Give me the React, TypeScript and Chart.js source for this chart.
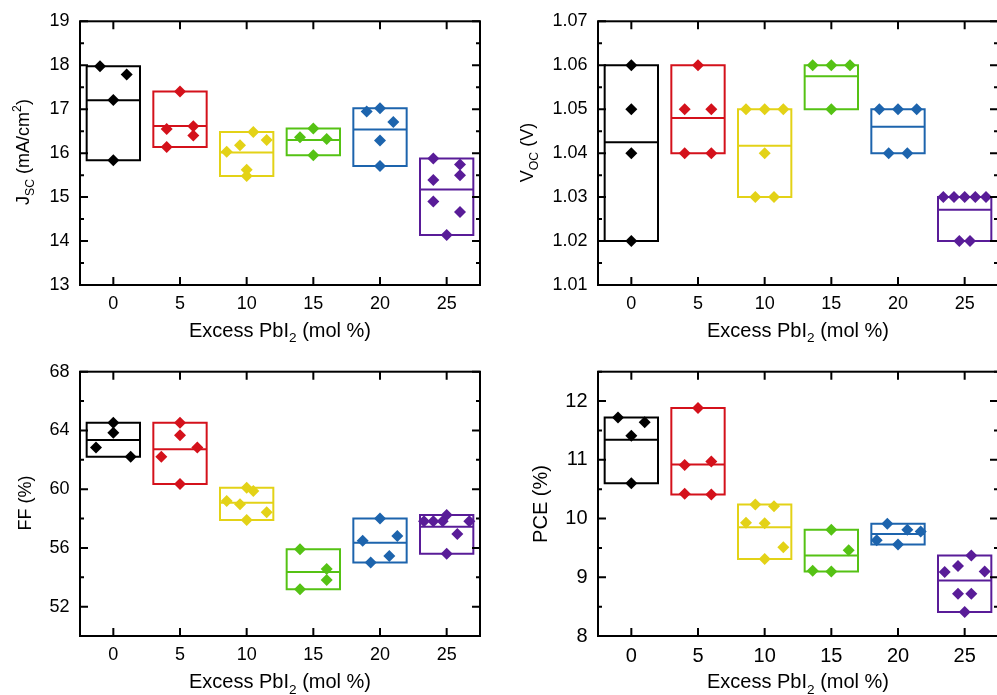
import React, { useEffect, useRef } from 'react';
import { Chart, registerables } from 'chart.js';

Chart.register(...registerables);
Chart.defaults.font.family = '"Liberation Sans", Arial, sans-serif';
Chart.defaults.color = '#000';

// ---------- shared data ----------
const groupCenters = [0, 5, 10, 15, 20, 25];
const groupColors = ['#000000', '#d4111b', '#e3d217', '#55c214', '#1d64ad', '#591c98'];
const xTickValues = [0, 5, 10, 15, 20, 25];
const xTitleSegs = [{ t: 'Excess PbI' }, { t: '2', k: 'sub' }, { t: ' (mol %)' }];

// ---------- Jsc panel ----------
const jscX = [
  [-1, 1, 0, 0],
  [5, 4, 6, 6, 4],
  [8.5, 9.5, 10.5, 11.5, 10, 10],
  [14, 15, 16, 15],
  [19, 20, 21, 20, 20],
  [24, 26, 24, 26, 24, 26, 25],
];
const jscY = [
  [17.98, 17.79, 17.21, 15.84],
  [17.4, 16.55, 16.61, 16.4, 16.14],
  [16.03, 16.18, 16.48, 16.3, 15.62, 15.48],
  [16.36, 16.56, 16.32, 15.95],
  [16.95, 17.02, 16.71, 16.29, 15.71],
  [15.88, 15.74, 15.39, 15.5, 14.9, 14.66, 14.14],
];
const jscTicks = [13, 14, 15, 16, 17, 18, 19];
const jscMinor = [13.5, 14.5, 15.5, 16.5, 17.5, 18.5];

// ---------- Voc panel ----------
const vocX = [
  [0, 0, 0, 0],
  [5, 4, 6, 4, 6],
  [8.6, 10, 11.4, 10, 9.3, 10.7],
  [13.6, 15, 16.4, 15],
  [18.6, 20, 21.4, 19.3, 20.7],
  [23.4, 24.2, 25, 25.8, 26.6, 24.6, 25.4],
];
const vocY = [
  [1.06, 1.05, 1.04, 1.02],
  [1.06, 1.05, 1.05, 1.04, 1.04],
  [1.05, 1.05, 1.05, 1.04, 1.03, 1.03],
  [1.06, 1.06, 1.06, 1.05],
  [1.05, 1.05, 1.05, 1.04, 1.04],
  [1.03, 1.03, 1.03, 1.03, 1.03, 1.02, 1.02],
];
const vocTicks = [1.01, 1.02, 1.03, 1.04, 1.05, 1.06, 1.07];
const vocMinor = [1.015, 1.025, 1.035, 1.045, 1.055, 1.065];

// ---------- FF panel ----------
const ffX = [
  [0, 0, -1.3, 1.3],
  [5, 5, 6.3, 3.6, 5],
  [10, 10.5, 8.5, 9.5, 11.5, 10],
  [14, 16, 16, 14],
  [20, 18.7, 21.3, 20.7, 19.3],
  [25, 23.3, 24, 24.7, 26.7, 25.8, 25],
];
const ffY = [
  [64.53, 63.85, 62.83, 62.21],
  [64.53, 63.67, 62.83, 62.21, 60.35],
  [60.1, 59.88, 59.19, 58.97, 58.42, 57.9],
  [55.9, 54.56, 53.82, 53.18],
  [58.01, 56.49, 56.81, 55.45, 55.0],
  [58.24, 57.82, 57.82, 57.82, 57.82, 56.95, 55.6],
];
const ffTicks = [52, 56, 60, 64, 68];
const ffMinor = [50, 54, 58, 62, 66];

// ---------- PCE panel ----------
const pceX = [
  [-1, 1, 0, 0],
  [5, 4, 6, 4, 6],
  [9.3, 10.7, 8.6, 10, 11.4, 10],
  [15, 16.3, 13.6, 15],
  [19.2, 20.7, 21.7, 18.4, 20],
  [25.5, 24.5, 23.5, 26.5, 24.5, 25.5, 25],
];
const pceY = [
  [11.72, 11.64, 11.41, 10.6],
  [11.88, 10.91, 10.97, 10.42, 10.41],
  [10.24, 10.21, 9.93, 9.92, 9.51, 9.31],
  [9.81, 9.46, 9.11, 9.1],
  [9.91, 9.81, 9.78, 9.63, 9.56],
  [9.37, 9.19, 9.09, 9.1, 8.72, 8.72, 8.41],
];
const pceTicks = [8, 9, 10, 11, 12];
const pceMinor = [8.5, 9.5, 10.5, 11.5, 12.5];

type Seg = { t: string; k?: 'sub' | 'sup' };

interface PanelSpec {
  xs: number[][];
  ys: number[][];
  yMin: number;
  yMax: number;
  yTicks: number[];
  yMinor: number[];
  decimals: number;
  yTitle: Seg[];
  left: number;
  top: number;
  width: number;
  height: number;
  area: { l: number; t: number; r: number; b: number };
  tickFont: number;
  yTitleFont: number;
  yTitleX: number;
  yTitleY: number;
  xTitleY: number;
}

const FONT = '"Liberation Sans", Arial, sans-serif';

function drawRich(ctx: CanvasRenderingContext2D, segs: Seg[], size: number) {
  const parts = segs.map((s) => {
    const fs = s.k ? size * 0.68 : size;
    ctx.font = `${fs}px ${FONT}`;
    return { s, fs, w: ctx.measureText(s.t).width };
  });
  const total = parts.reduce((a, p) => a + p.w, 0);
  let x = -total / 2;
  ctx.textAlign = 'left';
  ctx.textBaseline = 'alphabetic';
  for (const p of parts) {
    ctx.font = `${p.fs}px ${FONT}`;
    const dy = p.s.k === 'sub' ? size * 0.28 : p.s.k === 'sup' ? -size * 0.42 : 0;
    ctx.fillText(p.s.t, x, dy);
    x += p.w;
  }
}

const panels: PanelSpec[] = [
  {
    xs: jscX, ys: jscY, yMin: 13, yMax: 19, yTicks: jscTicks, yMinor: jscMinor, decimals: 0,
    yTitle: [{ t: 'J' }, { t: 'SC', k: 'sub' }, { t: ' (mA/cm' }, { t: '2', k: 'sup' }, { t: ')' }],
    left: 0, top: 0, width: 498, height: 342,
    area: { l: 80, t: 19, r: 480, b: 285 },
    tickFont: 18, yTitleFont: 18, yTitleX: 29, yTitleY: 152, xTitleY: 336.7,
  },
  {
    xs: vocX, ys: vocY, yMin: 1.01, yMax: 1.07, yTicks: vocTicks, yMinor: vocMinor, decimals: 2,
    yTitle: [{ t: 'V' }, { t: 'OC', k: 'sub' }, { t: ' (V)' }],
    left: 498, top: 0, width: 506, height: 342,
    area: { l: 100, t: 19, r: 501.5, b: 285 },
    tickFont: 18, yTitleFont: 18, yTitleX: 35, yTitleY: 152.5, xTitleY: 336.7,
  },
  {
    xs: ffX, ys: ffY, yMin: 50, yMax: 68, yTicks: ffTicks, yMinor: ffMinor, decimals: 0,
    yTitle: [{ t: 'FF (%)' }],
    left: 0, top: 345, width: 498, height: 350,
    area: { l: 80, t: 26.7, r: 480, b: 291 },
    tickFont: 18, yTitleFont: 18, yTitleX: 30.7, yTitleY: 158, xTitleY: 343.3,
  },
  {
    xs: pceX, ys: pceY, yMin: 8, yMax: 12.5, yTicks: pceTicks, yMinor: pceMinor, decimals: 0,
    yTitle: [{ t: 'PCE (%)' }],
    left: 498, top: 345, width: 506, height: 350,
    area: { l: 100, t: 26.7, r: 501.5, b: 291 },
    tickFont: 20, yTitleFont: 20, yTitleX: 48.7, yTitleY: 159, xTitleY: 343.3,
  },
];

function Panel({ spec }: { spec: PanelSpec }) {
  const ref = useRef<HTMLCanvasElement>(null);

  useEffect(() => {
    const canvas = ref.current;
    if (!canvas) return;
    const datasets: any[] = [];
    spec.ys.forEach((vals, g) => {
      const c = groupCenters[g];
      const col = groupColors[g];
      datasets.push({
        data: vals.map((y, i) => ({ x: spec.xs[g][i], y })),
        pointStyle: 'rectRot',
        pointRadius: 6,
        pointHoverRadius: 6,
        backgroundColor: col,
        borderColor: col,
        borderWidth: 0,
        showLine: false,
        order: 0,
      });
      const lo = Math.min(...vals);
      const hi = Math.max(...vals);
      const mean = vals.reduce((a, b) => a + b, 0) / vals.length;
      datasets.push({
        data: [
          { x: c - 2, y: lo },
          { x: c + 2, y: lo },
          { x: c + 2, y: hi },
          { x: c - 2, y: hi },
          { x: c - 2, y: lo },
        ],
        showLine: true,
        pointRadius: 0,
        pointHoverRadius: 0,
        borderColor: col,
        backgroundColor: col,
        borderWidth: 2,
        borderJoinStyle: 'miter',
        borderCapStyle: 'square',
        fill: false,
        tension: 0,
        order: 1,
      });
      datasets.push({
        data: [
          { x: c - 2, y: mean },
          { x: c + 2, y: mean },
        ],
        showLine: true,
        pointRadius: 0,
        pointHoverRadius: 0,
        borderColor: col,
        backgroundColor: col,
        borderWidth: 2,
        fill: false,
        order: 1,
      });
    });

    const a = spec.area;
    const framePlugin = {
      id: 'frame' + spec.left + '_' + spec.top,
      afterDraw(chart: any) {
        const ctx: CanvasRenderingContext2D = chart.ctx;
        const ca = chart.chartArea;
        const xs = chart.scales.x;
        const ys = chart.scales.y;
        ctx.save();
        ctx.strokeStyle = '#000';
        ctx.lineWidth = 2;
        ctx.lineCap = 'butt';
        ctx.beginPath();
        for (const v of xTickValues) {
          const p = xs.getPixelForValue(v);
          ctx.moveTo(p, ca.bottom);
          ctx.lineTo(p, ca.bottom - 8);
          ctx.moveTo(p, ca.top);
          ctx.lineTo(p, ca.top + 8);
        }
        for (const v of spec.yTicks) {
          const p = ys.getPixelForValue(v);
          ctx.moveTo(ca.left, p);
          ctx.lineTo(ca.left + 8, p);
          ctx.moveTo(ca.right, p);
          ctx.lineTo(ca.right - 8, p);
        }
        for (const v of spec.yMinor) {
          const p = ys.getPixelForValue(v);
          ctx.moveTo(ca.left, p);
          ctx.lineTo(ca.left + 4, p);
          ctx.moveTo(ca.right, p);
          ctx.lineTo(ca.right - 4, p);
        }
        ctx.stroke();
        ctx.strokeRect(ca.left, ca.top, ca.right - ca.left, ca.bottom - ca.top);

        ctx.fillStyle = '#000';
        // x title
        ctx.save();
        ctx.translate((ca.left + ca.right) / 2, spec.xTitleY);
        drawRich(ctx, xTitleSegs as Seg[], 20);
        ctx.restore();
        // y title
        ctx.save();
        ctx.translate(spec.yTitleX, spec.yTitleY);
        ctx.rotate(-Math.PI / 2);
        drawRich(ctx, spec.yTitle, spec.yTitleFont);
        ctx.restore();
        ctx.restore();
      },
    };

    const chart = new Chart(canvas, {
      type: 'scatter',
      data: { datasets },
      options: {
        animation: false,
        responsive: false,
        maintainAspectRatio: false,
        events: [],
        layout: {
          padding: { left: 0, top: a.t, right: spec.width - a.r, bottom: 0 },
        },
        plugins: {
          legend: { display: false },
          tooltip: { enabled: false },
        },
        scales: {
          x: {
            type: 'linear',
            min: -2.5,
            max: 27.5,
            afterBuildTicks: (s: any) => {
              s.ticks = xTickValues.map((v) => ({ value: v }));
            },
            afterFit: (s: any) => {
              s.height = spec.height - a.b;
            },
            grid: { display: false, drawTicks: false },
            border: { display: false },
            ticks: {
              color: '#000',
              padding: spec.tickFont === 20 ? 8.7 : 8.2,
              font: { size: spec.tickFont, family: FONT },
              callback: (v: any) => String(v),
            },
          },
          y: {
            type: 'linear',
            min: spec.yMin,
            max: spec.yMax,
            afterBuildTicks: (s: any) => {
              s.ticks = spec.yTicks.map((v) => ({ value: v }));
            },
            afterFit: (s: any) => {
              s.width = a.l;
            },
            grid: { display: false, drawTicks: false },
            border: { display: false },
            ticks: {
              color: '#000',
              padding: 10.5,
              font: { size: spec.tickFont, family: FONT },
              callback: (v: any) => Number(v).toFixed(spec.decimals),
            },
          },
        },
      },
      plugins: [framePlugin as any],
    });
    return () => chart.destroy();
  }, [spec]);

  return (
    <canvas
      ref={ref}
      width={spec.width}
      height={spec.height}
      style={{
        position: 'absolute',
        left: spec.left,
        top: spec.top,
        width: spec.width,
        height: spec.height,
        display: 'block',
      }}
    />
  );
}

export default function App() {
  return (
    <div
      style={{
        position: 'absolute',
        left: 0,
        top: 0,
        width: 997,
        height: 695,
        overflow: 'hidden',
        background: '#fff',
      }}
    >
      {panels.map((p, i) => (
        <Panel key={i} spec={p} />
      ))}
    </div>
  );
}
